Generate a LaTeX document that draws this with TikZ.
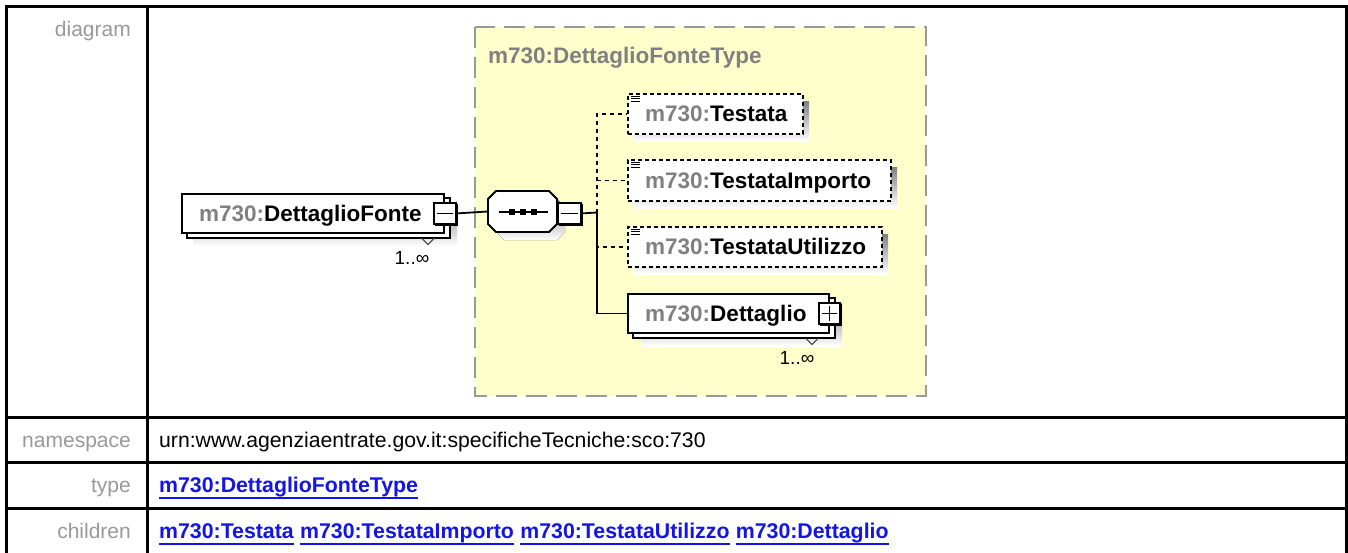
\documentclass[tikz,border=0pt]{standalone}
\usepackage{fontspec}
\setmainfont{Liberation Sans}
\definecolor{yelfill}{HTML}{FFFFCC}
\definecolor{yelline}{HTML}{999999}
\definecolor{shade}{HTML}{B0B0B0}
\definecolor{lblgray}{HTML}{999999}
\definecolor{pfxgray}{HTML}{808080}
\definecolor{lnkblue}{HTML}{1414E6}
\definecolor{mkgray}{HTML}{555555}
\newcommand{\fsz}[1]{\fontsize{#1}{#1}\selectfont}
\newcommand{\pfx}{\textcolor{pfxgray}{m730:}}
\begin{document}
\begin{tikzpicture}[x=1pt,y=-1pt,
 tbl/.style={line width=3pt,black},
 lbl/.style={anchor=base east,inner sep=0pt,text=lblgray,font=\fsz{21}},
 val/.style={anchor=base west,inner sep=0pt,font=\fsz{21.2}},
 lnk/.style={anchor=base west,inner sep=0pt,font=\fsz{21.3}\bfseries,text=lnkblue},
 ul/.style={lnkblue,line width=2pt},
 ebox/.style={fill=white,draw=black,line width=1.8pt,anchor=north west,inner sep=0pt},
 obox/.style={ebox,line width=1.6pt,dash pattern=on 4pt off 3pt},
 etext/.style={anchor=base west,inner sep=0pt,font=\fsz{22.5}\bfseries},
 conn/.style={line width=1.8pt,black},
 dconn/.style={line width=1.6pt,black,dash pattern=on 4pt off 4pt},
 mult/.style={inner sep=0pt,font=\fsz{19}},
 tglbox/.style={draw=black,fill=white,line width=1.8pt,anchor=north west,inner sep=0pt,minimum width=22pt,minimum height=21pt},
 mkline/.style={mkgray,line width=1.2pt},
]
\useasboundingbox (0,0) rectangle (1348,552);
\fill[white] (0,0) rectangle (1348,552);

% ---------- table ----------
\draw[tbl] (6,553) -- (6,6) -- (1346,6) -- (1346,553);
\draw[tbl] (147,6) -- (147,553);
\draw[tbl] (6,417) -- (1346,417);
\draw[tbl] (6,462) -- (1346,462);
\draw[tbl] (6,508) -- (1346,508);

\node[lbl] (ldiag) at (131,36) {diagram};
\node[lbl] (lns) at (131,447) {namespace};
\node[lbl] (ltype) at (131,492) {type};
\node[lbl] (lchild) at (131,538) {children};

\node[val] (vns) at (159,447) {urn:www.agenziaentrate.gov.it:specificheTecniche:sco:730};
\node[lnk] (vtype) at (159,492) {m730:DettaglioFonteType};
\node[lnk] (c1) at (159,538) {m730:Testata};
\node[lnk,xshift=6pt] (c2) at (c1.base east) {m730:TestataImporto};
\node[lnk,xshift=6pt] (c3) at (c2.base east) {m730:TestataUtilizzo};
\node[lnk,xshift=6pt] (c4) at (c3.base east) {m730:Dettaglio};
\foreach \n in {vtype,c1,c2,c3,c4}
  \draw[ul] ([yshift=-5.5pt]\n.base west) -- ([yshift=-5.5pt]\n.base east);

% ---------- diagram ----------
\draw[fill=yelfill,draw=yelline,line width=2.2pt,dash pattern=on 21pt off 9pt] (475,27) rectangle (926,396);
\node[etext,text=pfxgray] (ttl) at (488,63) {m730:DettaglioFonteType};

% DettaglioFonte element
\fill[shade] (193,203) rectangle (457,246);
\draw[fill=white,line width=1.8pt] (187,198) rectangle (450,238);
\node[ebox,minimum width=262pt,minimum height=39pt] (df) at (181,193) {};
\node[etext] (dft) at ([xshift=18pt,yshift=-8pt]df.west) {\pfx DettaglioFonte};
\fill (435,204) rectangle (458,226);
\node[tglbox] (dfm) at (433,202) {};
\draw[conn] ([xshift=4pt]dfm.west) -- ([xshift=-4pt]dfm.east);
\draw[mkline] (422,238.5) -- (428,244.5) -- (434,238.5);
\node[mult] (dfmult) at (412,258) {1..\char"221E};

% sequence compositor
\fill[shade] (504,199) -- (557,199) -- (565,207) -- (565,232) -- (557,240) -- (504,240) -- (496,232) -- (496,207) -- cycle;
\draw[fill=white,line width=1.8pt] (496,191) -- (549,191) -- (557,199) -- (557,224) -- (549,232) -- (496,232) -- (488,224) -- (488,199) -- cycle;
\node[inner sep=0pt,minimum width=69pt,minimum height=41pt] (seq) at (522.5,211.5) {};
\draw[conn] (499,212) -- (548,212);
\foreach \sx in {512,523,534} \fill (\sx-3,209) rectangle (\sx+3,215);
\fill (559,204) rectangle (583,226);
\node[tglbox,minimum width=23pt] (seqm) at (557,202) {};
\draw[conn] ([xshift=4pt]seqm.west) -- ([xshift=-4pt]seqm.east);

\draw[conn] (dfm.east) -- (seq.west);
\coordinate (bus) at (597,212.5);
\draw[conn] (seqm.east) -- (bus);

% children shadows and boxes
\fill[shade] (634,101) rectangle (809,141);
\node[obox,minimum width=175pt,minimum height=40pt] (te) at (627,93) {};
\fill[shade] (634,167) rectangle (897,208);
\node[obox,minimum width=263pt,minimum height=41pt] (ti) at (627,159) {};
\fill[shade] (634,234) rectangle (888,274);
\node[obox,minimum width=254pt,minimum height=40pt] (tu) at (627,226) {};
\fill[shade] (641,303) rectangle (842,346);
\draw[fill=white,line width=1.8pt] (633,298) rectangle (835,338);
\node[ebox,minimum width=201pt,minimum height=39pt] (dt) at (627,293) {};

% connectors to children
\draw[dconn] (bus) |- (te.west);
\draw[dconn] (bus) |- (ti.west);
\draw[dconn] (bus) |- (tu.west);
\draw[conn] (bus) |- (dt.west);

% texts
\node[etext] (tet) at ([xshift=18pt,yshift=-8pt]te.west) {\pfx Testata};
\node[etext] (tit) at ([xshift=18pt,yshift=-8pt]ti.west) {\pfx TestataImporto};
\node[etext] (tut) at ([xshift=18pt,yshift=-8pt]tu.west) {\pfx TestataUtilizzo};
\node[etext] (dtt) at ([xshift=18pt,yshift=-8pt]dt.west) {\pfx Dettaglio};

% simple-content icons
\foreach \b in {te,ti,tu} {
  \draw[line width=1pt] ([xshift=4pt,yshift=-3pt]\b.north west) -- ++(9,0);
  \draw[line width=1pt] ([xshift=4pt,yshift=-5.5pt]\b.north west) -- ++(9,0);
  \draw[line width=1pt] ([xshift=4pt,yshift=-8pt]\b.north west) -- ++(9,0);
}

% Dettaglio expand box and multiplicity
\fill (820,304) rectangle (842,326);
\node[tglbox,minimum width=21pt] (dtp) at (818,302) {};
\draw[conn] ([xshift=4pt]dtp.west) -- ([xshift=-4pt]dtp.east);
\draw[conn] ([yshift=-4pt]dtp.north) -- ([yshift=4pt]dtp.south);
\draw[mkline] (806,338.5) -- (812,344.5) -- (818,338.5);
\node[mult] (dtmult) at (797,358) {1..\char"221E};
\end{tikzpicture}
\end{document}
